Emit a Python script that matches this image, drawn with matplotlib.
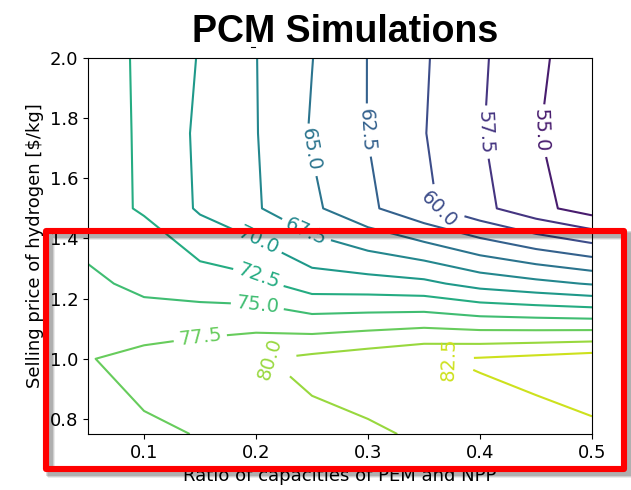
import matplotlib
matplotlib.use("Agg")
import matplotlib.pyplot as plt
import matplotlib.patches as patches
from matplotlib.lines import Line2D
import numpy as np

# Grid of the simulations
ratio = [0.05, 0.10, 0.15, 0.20, 0.25, 0.30, 0.35, 0.40, 0.45, 0.50]
price = [0.75, 1.00, 1.25, 1.50, 1.75, 2.00]

# Results, one row per hydrogen price
sim_075 = [76.50, 77.19, 77.57, 78.60, 79.38, 79.65, 80.32, 81.63, 81.75, 82.10]
sim_100 = [77.39, 78.20, 79.00, 79.80, 80.60, 81.40, 82.35, 82.70, 83.20, 83.80]
sim_125 = [75.60, 74.30, 73.70, 73.17, 71.20, 70.99, 70.58, 69.09, 68.20, 67.30]
sim_150 = [73.30, 72.30, 69.67, 67.74, 65.50, 63.00, 60.53, 58.23, 55.80, 53.75]
sim_175 = [73.20, 72.30, 69.50, 67.60, 64.80, 62.45, 60.10, 57.70, 55.20, 52.80]
sim_200 = [74.00, 72.00, 69.85, 67.55, 65.05, 62.45, 60.25, 57.90, 55.40, 53.80]

levels = np.arange(52.5, 85.1, 2.5)

# where the contour labels go (data coords)
label_pos = [(0.456, 1.757), (0.405, 1.753), (0.364, 1.507), (0.304, 1.76),
             (0.253, 1.697), (0.244, 1.42), (0.201, 1.387), (0.201, 1.263),
             (0.201, 1.173), (0.150, 1.08), (0.206, 0.99), (0.372, 0.998)]

Z = np.array([sim_075, sim_100, sim_125, sim_150, sim_175, sim_200])

fig = plt.figure(figsize=(6.31, 4.9), dpi=100)
ax = fig.add_axes([88 / 631, 56 / 490, 504 / 631, 376 / 490])

cs = ax.contour(ratio, price, Z, levels=levels, cmap='viridis', linewidths=1.5)
ax.clabel(cs, fmt='%.1f', fontsize=14, inline=True, manual=label_pos)

ax.set_xticks([0.1, 0.2, 0.3, 0.4, 0.5])
ax.set_yticks([0.8, 1.0, 1.2, 1.4, 1.6, 1.8, 2.0])
ax.tick_params(labelsize=13)
ax.set_xlabel('Ratio of capacities of PEM and NPP', fontsize=13)
ax.set_ylabel('Selling price of hydrogen [$/kg]', fontsize=13)

fig.text(345 / 631, 1 - 42 / 490, 'PCM Simulations', ha='center', va='baseline',
         fontsize=27, fontweight='bold', family='Liberation Sans')

W, H = 631, 490
# small stray tick above the plot
fig.add_artist(Line2D([251 / W, 255 / W], [1 - 47 / H, 1 - 47 / H],
                      transform=fig.transFigure, color='black', linewidth=0.8))

# highlight box with a soft shadow
x0, y0, x1, y1 = 46, 231, 624, 469
for off, a in [(5, 0.08), (4, 0.12), (3, 0.15)]:
    fig.add_artist(patches.Rectangle(((x0 + off) / W, 1 - (y1 + off) / H),
                                     (x1 - x0) / W, (y1 - y0) / H,
                                     transform=fig.transFigure, fill=False,
                                     edgecolor='black', alpha=a, linewidth=5))
fig.add_artist(patches.Rectangle((x0 / W, 1 - y1 / H), (x1 - x0) / W, (y1 - y0) / H,
                                 transform=fig.transFigure, fill=False,
                                 edgecolor='#ff0000', linewidth=4.4, joinstyle='round'))

fig.savefig('out.png', dpi=100)
